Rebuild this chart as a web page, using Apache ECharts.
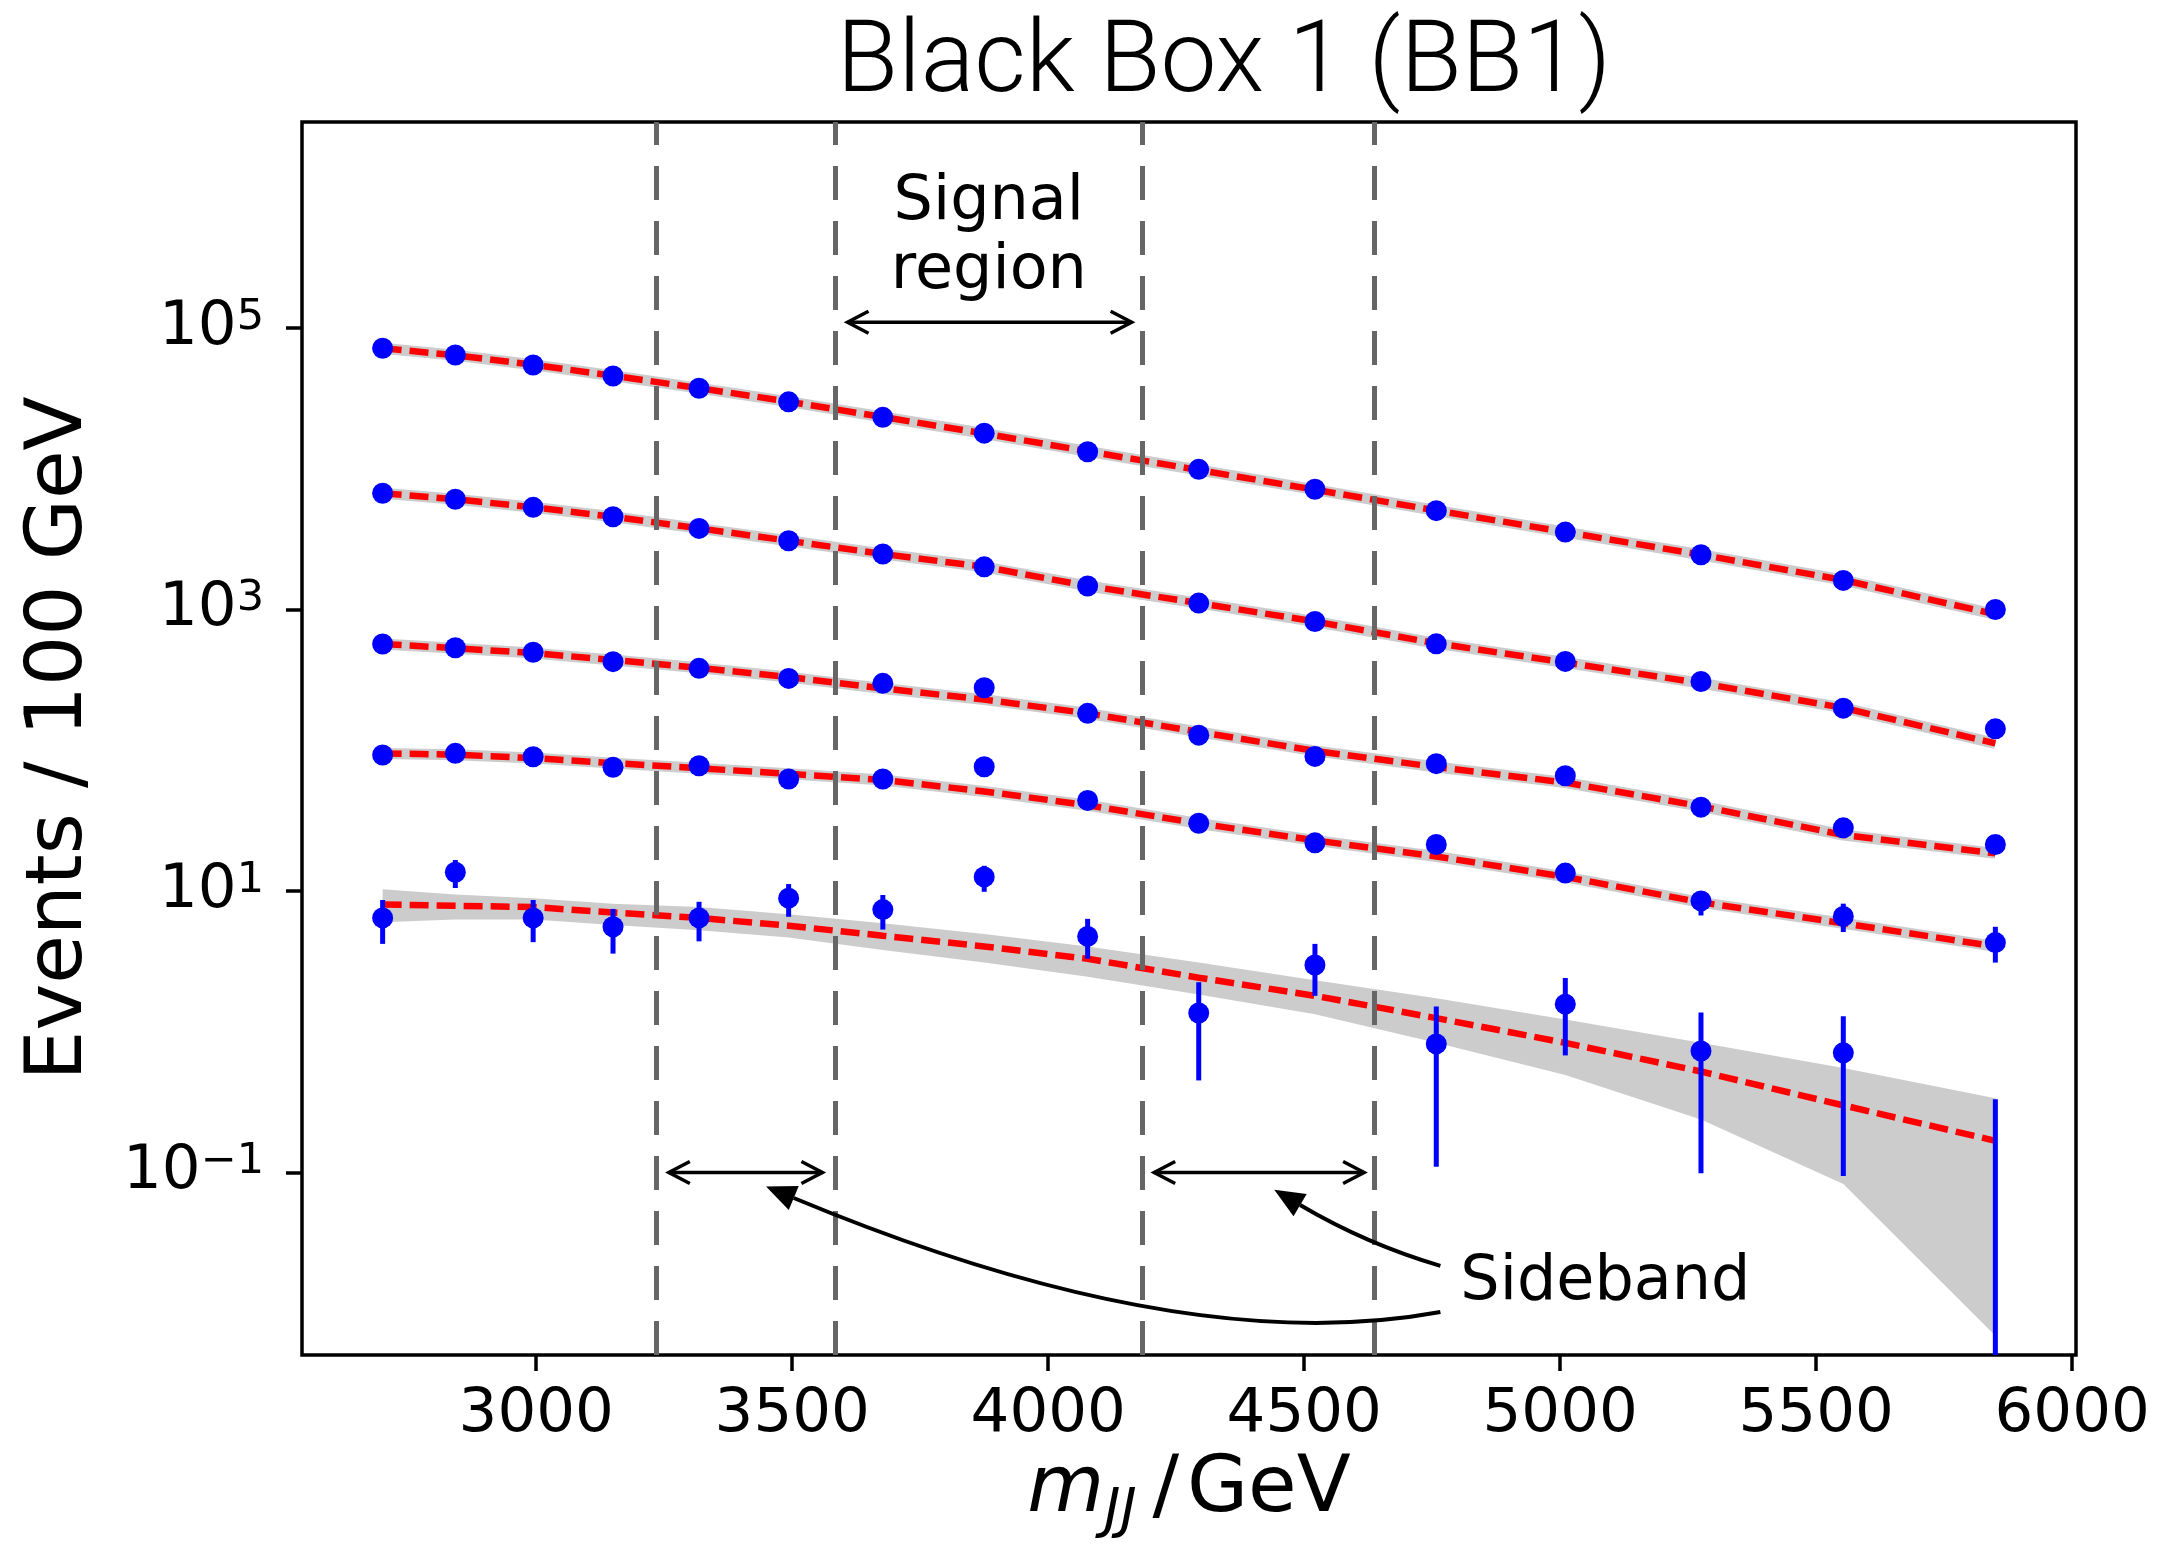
<!DOCTYPE html>
<html>
<head>
<meta charset="utf-8">
<script src="https://cdn.jsdelivr.net/npm/echarts@6/dist/echarts.min.js"></script>
<style>
  html, body { margin: 0; padding: 0; background: #fff; }
  #chart { width: 2171px; height: 1551px; }
</style>
</head>
<body>
<div id="chart"></div>
<script>
// bin centres (GeV)
const mjj = [2700, 2842, 2994, 3150, 3318, 3493, 3677, 3875, 4077, 4294, 4521, 4758, 5010, 5275, 5553, 5850];

// observed events, one row per scaled copy (top to bottom)
const counts1 = [71800, 64300, 54600, 45600, 37300, 29900, 23200, 17900, 13200, 9900, 7150, 5040, 3550, 2450, 1610, 1000];
const counts2 = [6700, 6070, 5320, 4560, 3770, 3080, 2480, 2010, 1470, 1110, 822, 570, 428, 308, 199, 142];
const counts3 = [569, 535, 497, 426, 382, 324, 299, 278, 183, 128, 90.4, 80.3, 65.9, 39.4, 28.1, 21.4];
const counts4 = [92.5, 95.1, 89.9, 75.7, 77.6, 62.5, 62.5, 76.4, 44, 30.3, 22.0, 21.4, 13.4, 8.5, 6.6, 4.3];
const counts5 = [6.44, 13.6, 6.44, 5.57, 6.44, 8.89, 7.38, 12.6, 4.76, 1.36, 2.98, 0.82, 1.57, 0.73, 0.708, null];

// error bars (low / high)
const err4Lo = [null, null, null, null, null, null, null, null, null, null, null, null, null, 6.7, 5.11, 3.10];
const err4Hi = [null, null, null, null, null, null, null, null, null, null, null, null, null, 9.9, 8.13, 5.57];
const err5Lo = [4.21, 10.5, 4.33, 3.59, 4.39, 6.56, 5.32, 9.87, 3.30, 0.451, 1.80, 0.110, 0.679, 0.0988, 0.0944, 0.001];
const err5Hi = [8.63, 16.6, 8.63, 7.46, 8.38, 11.2, 9.37, 15.1, 6.34, 2.25, 4.21, 1.51, 2.41, 1.37, 1.29, 0.331];

// background fits
const fit1 = [71800, 64000, 54800, 45800, 37400, 30000, 23300, 17800, 13300, 9800, 7100, 5050, 3550, 2450, 1620, 925];
const fit2 = [6700, 6070, 5320, 4560, 3770, 3080, 2480, 2010, 1470, 1110, 822, 575, 420, 300, 200, 112];
const fit3 = [569, 531, 490, 438, 385, 331, 275, 229, 183, 135, 99, 76, 59, 40, 25, 18.5];
const fit4 = [95, 93, 88, 81, 74.5, 68, 61.5, 51, 40.7, 30.2, 22.9, 17.6, 12.6, 8.3, 5.9, 4.04];
const fit5 = [8.03, 7.85, 7.69, 7.03, 6.44, 5.67, 4.81, 4.04, 3.30, 2.42, 1.80, 1.25, 0.834, 0.522, 0.300, 0.168];
const band5Hi = [10.3, 9.44, 8.89, 8.13, 7.69, 6.84, 5.91, 4.95, 4.04, 3.10, 2.32, 1.73, 1.22, 0.834, 0.553, 0.337];
const band5Lo = [6.01, 6.27, 6.27, 5.73, 5.26, 4.68, 3.81, 3.10, 2.46, 1.84, 1.33, 0.834, 0.493, 0.238, 0.083, 0.00692];

// region boundaries (GeV)
const regionEdges = [3234, 3584, 4184, 4637];

const xTicks = [3000, 3500, 4000, 4500, 5000, 5500, 6000];
const yTicks = [0.1, 10, 1000, 100000];

const FONT = 'DejaVu Sans';

function pairs(ys) {
  return mjj.map((x, i) => [x, ys[i]]);
}

const fits = [fit1, fit2, fit3, fit4];
const countsAll = [counts1, counts2, counts3, counts4, counts5];

const series = [];

// uncertainty band of the lowest fit
series.push({
  type: 'custom',
  z: 1,
  silent: true,
  clip: true,
  data: [[0]],
  renderItem: function (params, api) {
    const pts = [];
    mjj.forEach((x, i) => pts.push(api.coord([x, band5Hi[i]])));
    for (let i = mjj.length - 1; i >= 0; i--) pts.push(api.coord([mjj[i], band5Lo[i]]));
    return { type: 'polygon', shape: { points: pts }, style: { fill: '#cccccc' } };
  }
});

// thin grey bands under the upper fits
fits.forEach(f => {
  series.push({
    type: 'line', z: 2, silent: true, symbol: 'none', data: pairs(f),
    lineStyle: { color: '#cccccc', width: 11 }
  });
});

// region boundaries
series.push({
  type: 'line', z: 3, data: [], silent: true,
  markLine: {
    symbol: 'none', silent: true, animation: false,
    label: { show: false },
    lineStyle: { color: '#666666', width: 5, type: [34, 21] },
    emphasis: { disabled: true },
    data: regionEdges.map(v => ({ xAxis: v }))
  }
});

// red dashed fits
fits.concat([fit5]).forEach(f => {
  series.push({
    type: 'line', z: 4, silent: true, symbol: 'none', data: pairs(f),
    lineStyle: { color: '#ff0000', width: 6.5, type: [19, 8] }
  });
});

// error bars
[[err4Lo, err4Hi], [err5Lo, err5Hi]].forEach(([lo, hi]) => {
  series.push({
    type: 'custom', z: 5, silent: true, clip: true,
    data: mjj.map((x, i) => [x, lo[i], hi[i]]).filter(d => d[1] != null),
    renderItem: function (params, api) {
      const a = api.coord([api.value(0), api.value(1)]);
      const b = api.coord([api.value(0), api.value(2)]);
      return { type: 'line', shape: { x1: a[0], y1: a[1], x2: b[0], y2: b[1] }, style: { stroke: '#0000ff', lineWidth: 5 } };
    }
  });
});

// data points
countsAll.forEach(c => {
  series.push({
    type: 'scatter', z: 6, symbol: 'circle', symbolSize: 21,
    data: pairs(c).filter(d => d[1] != null),
    itemStyle: { color: '#0000ff', opacity: 1 }
  });
});

const chart = echarts.init(document.getElementById('chart'));

chart.setOption({
  animation: false,
  backgroundColor: '#ffffff',
  grid: { left: 302, top: 122, right: 95, bottom: 196, show: true, borderColor: '#000', borderWidth: 3.5, backgroundColor: 'transparent' },
  xAxis: {
    type: 'value', min: 2542.5, max: 6007.5,
    axisLine: { show: false },
    splitLine: { show: false },
    axisTick: { customValues: xTicks, length: 16, lineStyle: { color: '#000', width: 3.5 } },
    axisLabel: { customValues: xTicks, margin: 30, fontFamily: FONT, fontSize: 61, color: '#000', formatter: v => String(v) },
    name: '{it|m}{sub|JJ}{n|\u2009/\u200AGeV}',
    nameLocation: 'middle',
    nameGap: 70,
    nameTextStyle: {
      rich: {
        it: { fontFamily: FONT, fontStyle: 'italic', fontSize: 79, color: '#000', lineHeight: 100 },
        sub: { fontFamily: FONT, fontStyle: 'italic', fontSize: 55, color: '#000', lineHeight: 55, verticalAlign: 'bottom' },
        n: { fontFamily: FONT, fontSize: 79, color: '#000', lineHeight: 100 }
      }
    }
  },
  yAxis: {
    type: 'log', logBase: 10,
    min: Math.pow(10, -2.2966), max: Math.pow(10, 6.4636),
    axisLine: { show: false },
    splitLine: { show: false },
    axisTick: { customValues: yTicks, length: 16, lineStyle: { color: '#000', width: 3.5 } },
    axisLabel: {
      customValues: yTicks, margin: 38,
      formatter: function (v) {
        const e = Math.round(Math.log10(v));
        return '{b|10}{sup|' + (e < 0 ? '\u2212' + (-e) : e) + '}';
      },
      rich: {
        b: { fontFamily: FONT, fontSize: 61, color: '#000', lineHeight: 64 },
        sup: { fontFamily: FONT, fontSize: 43, color: '#000', lineHeight: 40, verticalAlign: 'top' }
      }
    },
    name: 'Events / 100 GeV',
    nameLocation: 'middle',
    nameGap: 202,
    nameTextStyle: { fontFamily: FONT, fontSize: 79, color: '#000' }
  },
  series: series
});

// ---- annotations, placed in data coordinates ----
const signalLabel = { x: 3884, y: 4.4e5, text: 'Signal\nregion' };
const rangeArrows = [[3608, 4163, 1.1e5], [3259, 3559, 0.1], [4207, 4617, 0.1]];
const sidebandLabel = { x: 4805, y: 0.0165, text: 'Sideband' };
const curvedArrows = [
  { start: [4766, 0.0217], ctrl: [4621, 0.031], end: [4492, 0.0587] },
  { start: [4766, 0.0102], ctrl: [4261, 0.00468], end: [3503, 0.0659] }
];

function px(p) { return chart.convertToPixel({ gridIndex: 0 }, p); }

const graphics = [];

graphics.push({
  type: 'text', x: 1224, y: 66, z: 10,
  style: { text: 'Black Box 1 (BB1)', font: '300 100px Roboto', fill: '#000', textAlign: 'center', textVerticalAlign: 'middle' }
});

const sp = px([signalLabel.x, signalLabel.y]);
graphics.push({
  type: 'text', x: sp[0], y: sp[1], z: 10,
  style: { text: signalLabel.text, font: '62px "DejaVu Sans"', lineHeight: 69, fill: '#000', textAlign: 'center', textVerticalAlign: 'middle' }
});

rangeArrows.forEach(([x1, x2, y]) => {
  const a = px([x1, y]), b = px([x2, y]);
  const L = 21, W = 11;
  graphics.push({ type: 'line', z: 10, shape: { x1: a[0], y1: a[1], x2: b[0], y2: b[1] }, style: { stroke: '#000', lineWidth: 3.5 } });
  graphics.push({ type: 'polyline', z: 10, shape: { points: [[a[0] + L, a[1] - W], a, [a[0] + L, a[1] + W]] }, style: { stroke: '#000', lineWidth: 3.5, fill: null } });
  graphics.push({ type: 'polyline', z: 10, shape: { points: [[b[0] - L, b[1] - W], b, [b[0] - L, b[1] + W]] }, style: { stroke: '#000', lineWidth: 3.5, fill: null } });
});

const sb = px([sidebandLabel.x, sidebandLabel.y]);
graphics.push({
  type: 'text', x: sb[0], y: sb[1], z: 10,
  style: { text: sidebandLabel.text, font: '62px "DejaVu Sans"', fill: '#000', textAlign: 'left', textVerticalAlign: 'middle' }
});

curvedArrows.forEach(c => {
  const s = px(c.start), k = px(c.ctrl), e = px(c.end);
  graphics.push({ type: 'bezierCurve', z: 10, shape: { x1: s[0], y1: s[1], x2: e[0], y2: e[1], cpx1: k[0], cpy1: k[1] }, style: { stroke: '#000', lineWidth: 4, fill: null } });
  const dx = e[0] - k[0], dy = e[1] - k[1];
  const len = Math.sqrt(dx * dx + dy * dy);
  const ux = dx / len, uy = dy / len;
  const L = 30, W = 13;
  const tip = [e[0] + ux * L, e[1] + uy * L];
  graphics.push({ type: 'polygon', z: 10, shape: { points: [tip, [e[0] - uy * W, e[1] + ux * W], [e[0] + uy * W, e[1] - ux * W]] }, style: { fill: '#000' } });
});

chart.setOption({ graphic: graphics });
</script>
</body>
</html>
